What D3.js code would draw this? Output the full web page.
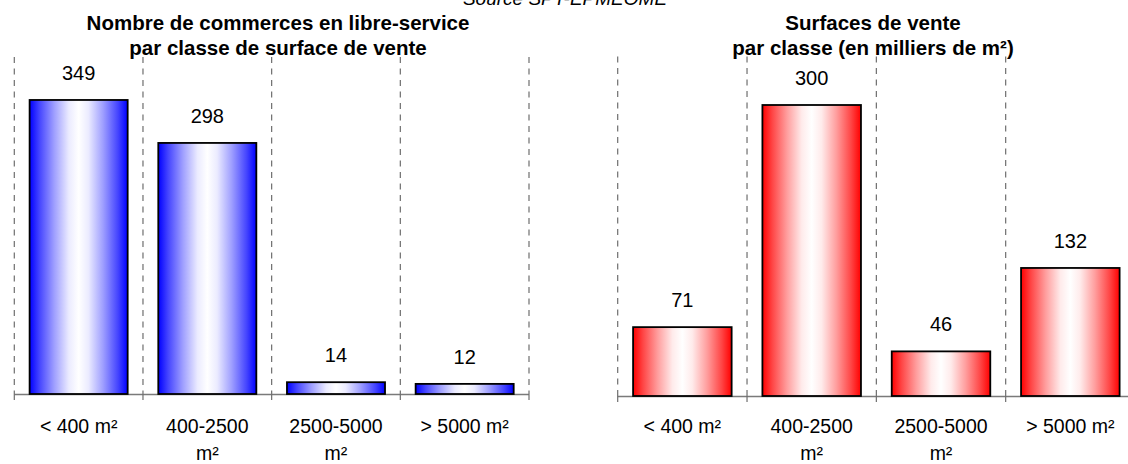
<!DOCTYPE html>
<html>
<head>
<meta charset="utf-8">
<script src="https://cdn.jsdelivr.net/npm/d3@7"></script>
<style>
  html, body { margin: 0; padding: 0; background: #fff; }
  svg { display: block; font-family: Arial, "Liberation Sans", sans-serif; }
</style>
</head>
<body>
<svg id="chart" width="1128" height="464"></svg>
<script>
// ---- data ----
const categories = ["< 400 m²", "400-2500 m²", "2500-5000 m²", "> 5000 m²"];
const tickLabels = [["< 400 m²"], ["400-2500", "m²"], ["2500-5000", "m²"], ["> 5000 m²"]];
const countValues = [349, 298, 14, 12];
const surfaceValues = [71, 300, 46, 132];
const countTitle = ["Nombre de commerces en libre-service", "par classe de surface de vente"];
const surfaceTitle = ["Surfaces de vente", "par classe (en milliers de m²)"];
const sourceText = "Source SPT-EPMEOME";

const svg = d3.select("#chart");
const defs = svg.append("defs");

function makeGradient(id, color) {
  const g = defs.append("linearGradient").attr("id", id)
    .attr("x1", "0%").attr("x2", "100%").attr("y1", "0%").attr("y2", "0%");
  const white = d3.color("#ffffff");
  const stops = [[0, 0], [0.1, 0.27], [0.25, 0.62], [0.4, 0.92], [0.5, 1], [0.6, 0.92], [0.75, 0.62], [0.9, 0.27], [1, 0]];
  stops.forEach(([o, t]) => {
    g.append("stop").attr("offset", o).attr("stop-color", d3.interpolateRgb(color, white)(t));
  });
}
makeGradient("gradBlue", "#0000ff");
makeGradient("gradRed", "#ff0000");

svg.append("text")
  .attr("x", 565).attr("y", 5)
  .attr("text-anchor", "middle")
  .style("font-size", "19px").style("font-style", "italic")
  .text(sourceText);

function drawPanel(opts) {
  const { values, title, x0, x1, yTop, yBottom, yMax, grad, titleX } = opts;
  const g = svg.append("g");
  const x = d3.scaleBand().domain(categories).range([x0, x1])
    .paddingInner(0.238).paddingOuter(0.119);
  const y = d3.scaleLinear().domain([0, yMax]).range([yBottom, yTop]);
  const step = x.step();
  const dividers = d3.range(categories.length + 1).map(i => x0 + i * step);

  // dashed vertical separators
  g.selectAll("line.div").data(dividers).join("line")
    .attr("class", "div")
    .attr("x1", d => d).attr("x2", d => d)
    .attr("y1", y(yMax)).attr("y2", yBottom)
    .attr("stroke", "#6e6e6e").attr("stroke-width", 1.2)
    .attr("stroke-dasharray", "6,5.5");

  // x axis with ticks at dividers
  g.append("line")
    .attr("x1", x0).attr("x2", x1).attr("y1", yBottom + 0.5).attr("y2", yBottom + 0.5)
    .attr("stroke", "#7a7a7a").attr("stroke-width", 1.3);
  g.selectAll("line.tick").data(dividers).join("line")
    .attr("class", "tick")
    .attr("x1", d => d).attr("x2", d => d)
    .attr("y1", yBottom).attr("y2", yBottom + 6)
    .attr("stroke", "#6e6e6e").attr("stroke-width", 1.2);

  // bars
  g.selectAll("rect.bar").data(values).join("rect")
    .attr("class", "bar")
    .attr("x", (d, i) => x(categories[i]))
    .attr("width", x.bandwidth())
    .attr("y", d => y(d))
    .attr("height", d => yBottom - y(d))
    .attr("fill", `url(#${grad})`)
    .attr("stroke", "#000").attr("stroke-width", 1.8);

  // value labels
  g.selectAll("text.val").data(values).join("text")
    .attr("class", "val")
    .attr("x", (d, i) => x(categories[i]) + x.bandwidth() / 2)
    .attr("y", d => y(d) - 20)
    .attr("text-anchor", "middle")
    .style("font-size", "20px")
    .text(d => d);

  // category labels
  tickLabels.forEach((lines, i) => {
    const cx = x(categories[i]) + x.bandwidth() / 2;
    lines.forEach((ln, j) => {
      g.append("text")
        .attr("x", cx).attr("y", 433 + j * 26.5)
        .attr("text-anchor", "middle")
        .style("font-size", "19.5px")
        .text(ln);
    });
  });

  // title
  title.forEach((ln, j) => {
    g.append("text")
      .attr("x", titleX).attr("y", 30 + j * 24.5)
      .attr("text-anchor", "middle")
      .style("font-size", "20.5px").style("font-weight", "bold")
      .text(ln);
  });
}

drawPanel({ values: countValues, title: countTitle, x0: 14.3, x1: 529, yTop: 57, yBottom: 394, yMax: 400, grad: "gradBlue", titleX: 278 });
drawPanel({ values: surfaceValues, title: surfaceTitle, x0: 617.7, x1: 1135, yTop: 56.5, yBottom: 396, yMax: 350, grad: "gradRed", titleX: 873 });
</script>
</body>
</html>
